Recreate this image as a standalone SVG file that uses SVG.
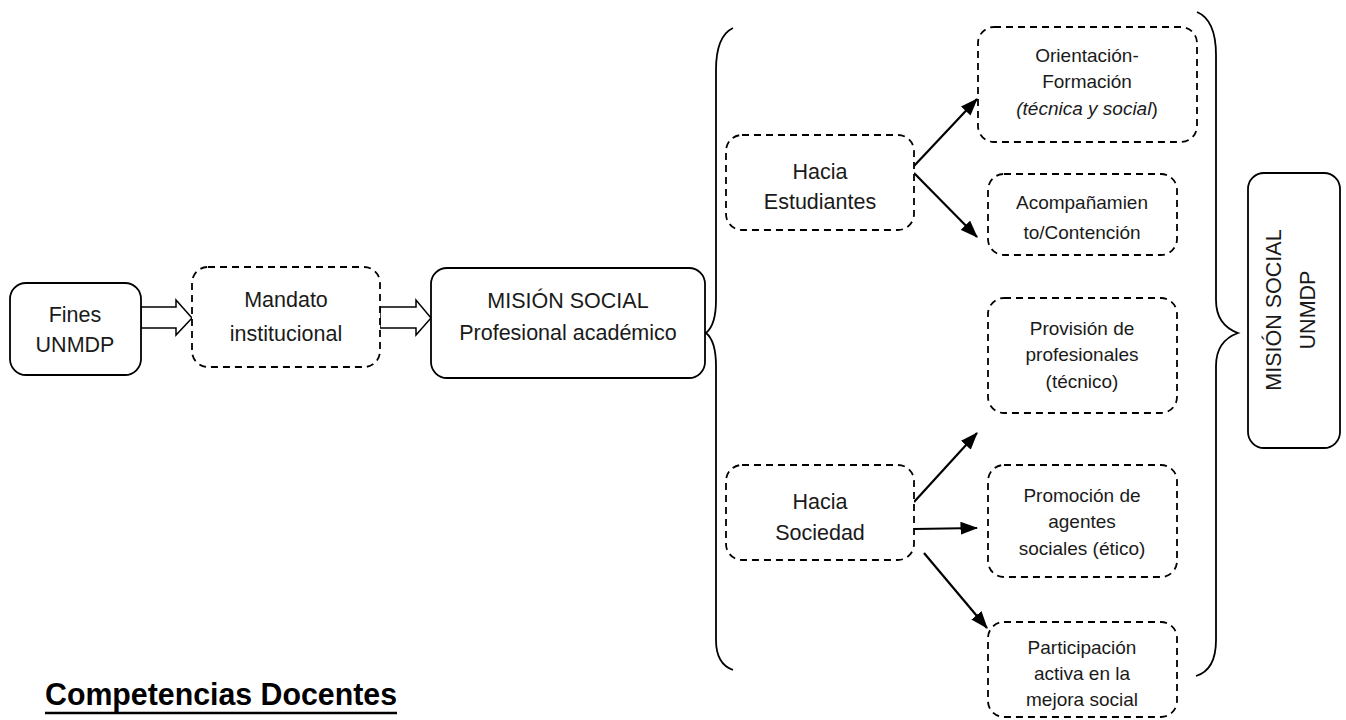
<svg xmlns="http://www.w3.org/2000/svg" width="1346" height="720" viewBox="0 0 1346 720">
<style>
.solid{fill:#fff;stroke:#000;stroke-width:1.8}
.dash{fill:#fff;stroke:#000;stroke-width:1.8;stroke-dasharray:7,5}
.t{font-family:"Liberation Sans",Arial,sans-serif;fill:#1a1a1a;text-anchor:middle}
.big{font-size:21.5px}
.sm{font-size:19px}
.ln{stroke:#000;stroke-width:2.2;fill:none}
.brace{stroke:#000;stroke-width:1.8;fill:none}
.block{fill:#fff;stroke:#000;stroke-width:1.5}
</style>
<defs>
<marker id="ah" viewBox="0 0 16 12" refX="15" refY="6" markerWidth="8" markerHeight="6" orient="auto" markerUnits="strokeWidth">
<path d="M0,0 L16,6 L0,12 z" fill="#000"/>
</marker>
</defs>
<rect width="1346" height="720" fill="#fff"/>

<g id="connectors">
<polygon class="block" points="141,307 176,307 176,300 192,318 176,335 176,328 141,328"/>
<polygon class="block" points="380,307 416,307 416,300 431,318 416,335 416,328 380,328"/>
<line class="ln" x1="914" y1="166" x2="977" y2="99" marker-end="url(#ah)"/>
<line class="ln" x1="914" y1="173" x2="977" y2="237" marker-end="url(#ah)"/>
<line class="ln" x1="914" y1="502" x2="977" y2="433" marker-end="url(#ah)"/>
<line class="ln" x1="914" y1="529" x2="977" y2="528" marker-end="url(#ah)"/>
<line class="ln" x1="924" y1="553" x2="987" y2="628" marker-end="url(#ah)"/>
<path class="brace" d="M733,28 Q716,36 716,70 L716,300 Q716,325 706,333 Q716,341 716,366 L716,640 Q716,664 733,670"/>
<path class="brace" d="M1197,12 Q1216,20 1216,55 L1216,300 Q1216,325 1238,333 Q1216,341 1216,366 L1216,640 Q1216,670 1196,676"/>
</g>

<g id="fines">
<rect class="solid" x="10" y="283" width="131" height="92" rx="16"/>
<text class="t big" x="75" y="322">Fines</text>
<text class="t big" x="75" y="352">UNMDP</text>
</g>
<g id="mandato">
<rect class="dash" x="192" y="267" width="188" height="100" rx="16"/>
<text class="t big" x="286" y="307">Mandato</text>
<text class="t big" x="286" y="341">institucional</text>
</g>
<g id="mision">
<rect class="solid" x="431" y="268" width="274" height="110" rx="16"/>
<text class="t big" x="568" y="308">MISIÓN SOCIAL</text>
<text class="t big" x="568" y="340">Profesional académico</text>
</g>
<g id="estudiantes">
<rect class="dash" x="726" y="135" width="188" height="95" rx="16"/>
<text class="t big" x="820" y="179">Hacia</text>
<text class="t big" x="820" y="209">Estudiantes</text>
</g>
<g id="orientacion">
<rect class="dash" x="978" y="27" width="219" height="115" rx="16"/>
<text class="t sm" x="1087" y="62">Orientación-</text>
<text class="t sm" x="1087" y="88">Formación</text>
<text class="t sm" x="1087" y="115"><tspan font-style="italic">(técnica y social</tspan>)</text>
</g>
<g id="acompanamiento">
<rect class="dash" x="988" y="174" width="189" height="81" rx="16"/>
<text class="t sm" x="1082" y="209">Acompañamien</text>
<text class="t sm" x="1082" y="239">to/Contención</text>
</g>
<g id="provision">
<rect class="dash" x="988" y="298" width="189" height="115" rx="16"/>
<text class="t sm" x="1082" y="335">Provisión de</text>
<text class="t sm" x="1082" y="361">profesionales</text>
<text class="t sm" x="1082" y="388">(técnico)</text>
</g>
<g id="sociedad">
<rect class="dash" x="726" y="465" width="188" height="95" rx="16"/>
<text class="t big" x="820" y="509">Hacia</text>
<text class="t big" x="820" y="540">Sociedad</text>
</g>
<g id="promocion">
<rect class="dash" x="988" y="465" width="189" height="112" rx="16"/>
<text class="t sm" x="1082" y="502">Promoción de</text>
<text class="t sm" x="1082" y="528">agentes</text>
<text class="t sm" x="1082" y="555">sociales (ético)</text>
</g>
<g id="participacion">
<rect class="dash" x="988" y="622" width="189" height="95" rx="16"/>
<text class="t sm" x="1082" y="654">Participación</text>
<text class="t sm" x="1082" y="680">activa en la</text>
<text class="t sm" x="1082" y="706">mejora social</text>
</g>
<g id="mision-unmdp">
<rect class="solid" x="1248" y="173" width="92" height="275" rx="16"/>
<g transform="rotate(-90 1294 310)">
<text class="t big" x="1294" y="297">MISIÓN SOCIAL</text>
<text class="t big" x="1294" y="331">UNMDP</text>
</g>
</g>
<g id="title">
<text x="45" y="705" font-family="'Liberation Sans',Arial,sans-serif" font-weight="bold" font-size="32" textLength="352" lengthAdjust="spacingAndGlyphs" fill="#000">Competencias Docentes</text>
<line x1="45" y1="713" x2="397" y2="713" stroke="#000" stroke-width="2.5"/>
</g>
</svg>
